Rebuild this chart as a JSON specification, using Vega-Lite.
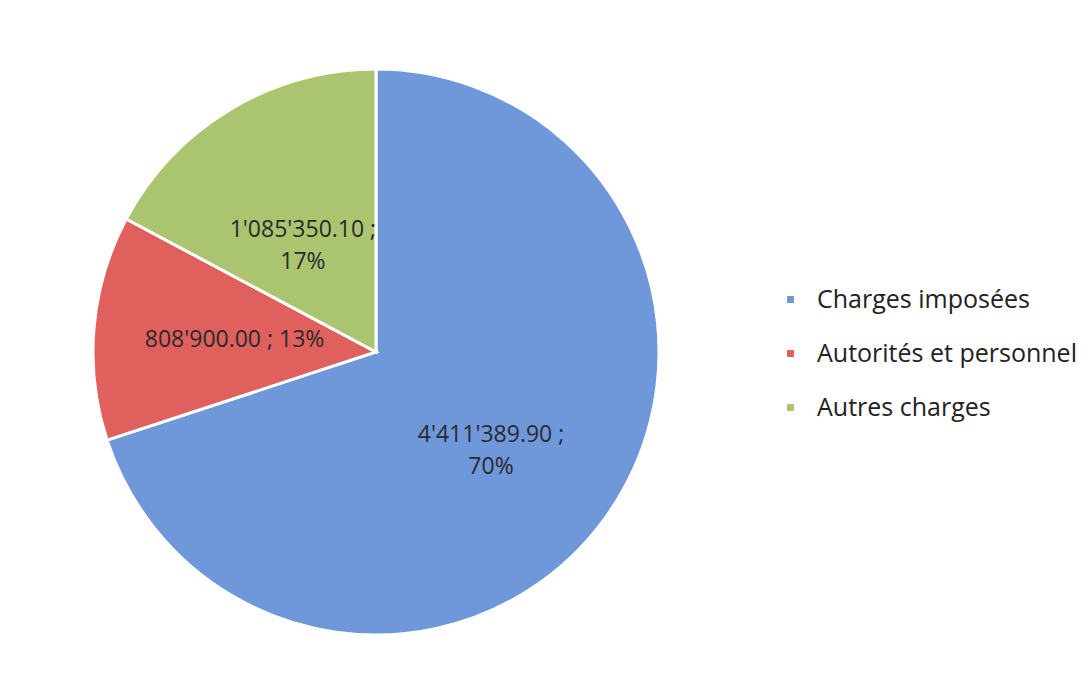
{
  "$schema": "https://vega.github.io/schema/vega-lite/v6.json",
  "width": 752,
  "height": 660,
  "padding": {"top": 22, "left": 0, "right": 0, "bottom": 0},
  "background": "white",
  "config": {"view": {"stroke": null}, "font": "Open Sans"},
  "data": {"values": [
    {"cat": "Charges imposées", "value": 4411389.90, "rank": 1, "label": "4'411'389.90 ;\n70%"},
    {"cat": "Autorités et personnel", "value": 808900.00, "rank": 2, "label": "808'900.00 ; 13%"},
    {"cat": "Autres charges", "value": 1085350.10, "rank": 3, "label": "1'085'350.10 ;\n17%"}
  ]},
  "encoding": {
    "theta": {"field": "value", "type": "quantitative", "stack": true},
    "order": {"field": "rank", "type": "quantitative"}
  },
  "layer": [
    {
      "mark": {"type": "arc", "outerRadius": 283, "stroke": "white", "strokeWidth": 3},
      "encoding": {
        "color": {
          "field": "cat", "type": "nominal",
          "scale": {"domain": ["Charges imposées", "Autorités et personnel", "Autres charges"], "range": ["#6f98da", "#e0605e", "#abc46f"]},
          "legend": {
            "title": null, "orient": "none", "legendX": 778, "legendY": 265,
            "symbolType": "square", "symbolSize": 70, "labelFontSize": 25, "labelFont": "Open Sans",
            "labelColor": "#222", "rowPadding": 28, "labelOffset": 14, "labelLimit": 400
          }
        }
      }
    },
    {
      "mark": {"type": "text", "radius": 142, "fontSize": 23, "color": "#2a2a2a", "lineBreak": "\n", "lineHeight": 32, "align": "center", "baseline": "middle"},
      "encoding": {"text": {"field": "label", "type": "nominal"}}
    }
  ]
}
